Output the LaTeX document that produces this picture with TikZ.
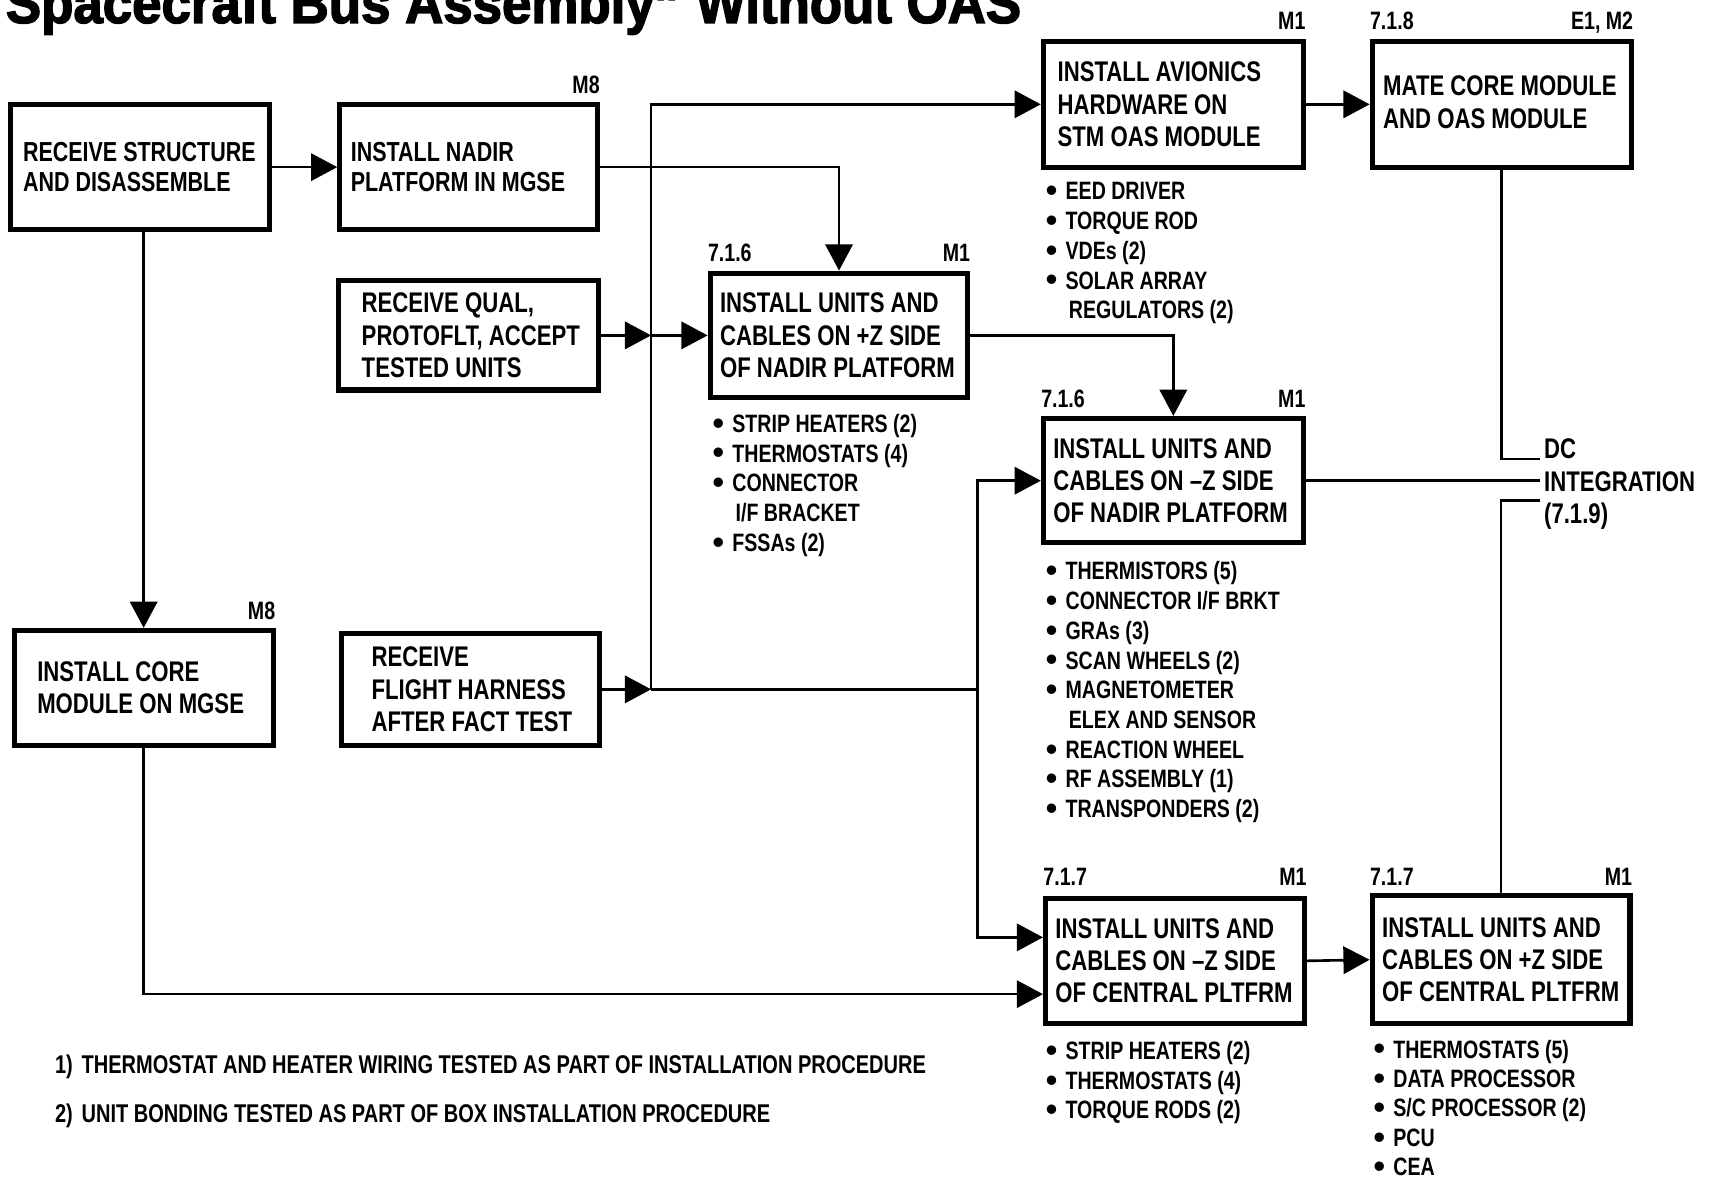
\documentclass[tikz,border=0pt]{standalone}
\usepackage{fontspec}
\newfontfamily\condfont[FakeStretch=0.78]{Liberation Sans}
\newfontfamily\titlefont[FakeStretch=0.93,FakeBold=2.5]{Liberation Sans}
\newfontfamily\plainfont{Liberation Sans}
\usetikzlibrary{arrows.meta,fit,calc}
% bullet for the item lists under the boxes
\newcommand{\bul}{\makebox[9pt][l]{\raisebox{-0.8pt}{\plainfont\fontsize{15}{13}\selectfont •}}}
\newcommand{\cont}{\hspace*{10.5pt}}
\begin{document}
\begin{tikzpicture}[x=0.5pt,y=-0.5pt,
  box/.style={draw, line width=2.3pt, inner sep=0pt},
  btext/.style={anchor=west, inner sep=0pt, align=left,
    font=\condfont\bfseries\fontsize{13}{14.75}\selectfont},
  stext/.style={btext, font=\condfont\bfseries\fontsize{12.6}{13.5}\selectfont},
  tag/.style={inner sep=0pt, font=\condfont\bfseries\fontsize{11.5}{13.6}\selectfont},
  blist/.style={anchor=north west, inner sep=0pt, align=left,
    font=\condfont\bfseries\fontsize{11.5}{13.6}\selectfont},
  note/.style={anchor=west, inner sep=0pt,
    font=\condfont\bfseries\fontsize{11.75}{14}\selectfont},
  link/.style={line width=1.2pt},
  arr/.style={link, -{Triangle[length=12pt,width=12.5pt]}},
]
\useasboundingbox (0,0) rectangle (1568,1080);
\clip (0,0) rectangle (1568,1080);

% heading
\node[anchor=base west, inner sep=0pt,
  font=\titlefont\bfseries\fontsize{26}{28}\selectfont] (title) at (5,21)
  {Spacecraft Bus Assembly” Without OAS};

% process boxes
\node[box, fit={(10,96) (247,210)}] (A) {};
\node[stext] (At) at ($(A.west)+(13,0)$) {RECEIVE STRUCTURE\\AND DISASSEMBLE};

\node[box, fit={(311,96) (547,210)}] (B) {};
\node[stext] (Bt) at ($(B.west)+(12,0)$) {INSTALL NADIR\\PLATFORM IN MGSE};
\node[tag, anchor=base east] (Bm) at ($(B.north east)+(0,-8)$) {M8};

\node[box, fit={(955,38) (1193,153)}] (C) {};
\node[btext] (Ct) at ($(C.west)+(15,0)$) {INSTALL AVIONICS\\HARDWARE ON\\STM OAS MODULE};
\node[tag, anchor=base east] (Cm) at ($(C.north east)+(0,-9)$) {M1};

\node[box, fit={(1256,38) (1493,153)}] (D) {};
\node[btext] (Dt) at ($(D.west)+(12,-2)$) {MATE CORE MODULE\\AND OAS MODULE};
\node[tag, anchor=base west] (Dn) at ($(D.north west)+(0,-9)$) {7.1.8};
\node[tag, anchor=base east] (Dm) at ($(D.north east)+(0,-9)$) {E1, M2};

\node[box, fit={(310,257) (548,357)}] (E) {};
\node[btext] (Et) at ($(E.west)+(23,0)$) {RECEIVE QUAL,\\PROTOFLT, ACCEPT\\TESTED UNITS};

\node[box, fit={(650,250) (886,364)}] (F) {};
\node[btext] (Ft) at ($(F.west)+(11,0)$) {INSTALL UNITS AND\\CABLES ON +Z SIDE\\OF NADIR PLATFORM};
\node[tag, anchor=base west] (Fn) at ($(F.north west)+(0,-8)$) {7.1.6};
\node[tag, anchor=base east] (Fm) at ($(F.north east)+(0,-8)$) {M1};

\node[box, fit={(955,383) (1193,497)}] (H) {};
\node[btext] (Ht) at ($(H.west)+(11,0)$) {INSTALL UNITS AND\\CABLES ON –Z SIDE\\OF NADIR PLATFORM};
\node[tag, anchor=base west] (Hn) at ($(H.north west)+(0,-8)$) {7.1.6};
\node[tag, anchor=base east] (Hm) at ($(H.north east)+(0,-8)$) {M1};

\node[box, fit={(13,577) (250,682)}] (K) {};
\node[btext] (Kt) at ($(K.west)+(23,0)$) {INSTALL CORE\\MODULE ON MGSE};
\node[tag, anchor=base east] (Km) at ($(K.north east)+(0,-8)$) {M8};

\node[box, fit={(313,580) (549,682)}] (G) {};
\node[btext] (Gt) at ($(G.west)+(29,0)$) {RECEIVE\\FLIGHT HARNESS\\AFTER FACT TEST};

\node[box, fit={(957,822) (1194,937)}] (I) {};
\node[btext] (It) at ($(I.west)+(11,0)$) {INSTALL UNITS AND\\CABLES ON –Z SIDE\\OF CENTRAL PLTFRM};
\node[tag, anchor=base west] (In) at ($(I.north west)+(0,-9)$) {7.1.7};
\node[tag, anchor=base east] (Im) at ($(I.north east)+(0,-9)$) {M1};

\node[box, fit={(1256,820) (1492,937)}] (J) {};
\node[btext] (Jt) at ($(J.west)+(11,0)$) {INSTALL UNITS AND\\CABLES ON +Z SIDE\\OF CENTRAL PLTFRM};
\node[tag, anchor=base west] (Jn) at ($(J.north west)+(0,-7)$) {7.1.7};
\node[tag, anchor=base east] (Jm) at ($(J.north east)+(0,-7)$) {M1};

% integration step (text only)
\node[btext, anchor=north west] (DC) at (1413,401.5) {DC\\INTEGRATION\\(7.1.9)};

% item lists
\node[blist] (Cl) at (957,166.8) {\bul EED DRIVER\\\bul TORQUE ROD\\\bul VDEs (2)\\\bul SOLAR ARRAY\\\cont REGULATORS (2)};
\node[blist] (Fl) at (652,378.8) {\bul STRIP HEATERS (2)\\\bul THERMOSTATS (4)\\\bul CONNECTOR\\\cont I/F BRACKET\\\bul FSSAs (2)};
\node[blist] (Hl) at (957,513.8) {\bul THERMISTORS (5)\\\bul CONNECTOR I/F BRKT\\\bul GRAs (3)\\\bul SCAN WHEELS (2)\\\bul MAGNETOMETER\\\cont ELEX AND SENSOR\\\bul REACTION WHEEL\\\bul RF ASSEMBLY (1)\\\bul TRANSPONDERS (2)};
\node[blist] (Il) at (957,952.8) {\bul STRIP HEATERS (2)\\\bul THERMOSTATS (4)\\\bul TORQUE RODS (2)};
\node[blist, font=\condfont\bfseries\fontsize{11.5}{13.45}\selectfont] (Jl) at (1257,951.5) {\bul THERMOSTATS (5)\\\bul DATA PROCESSOR\\\bul S/C PROCESSOR (2)\\\bul PCU\\\bul CEA};

% notes
\node[note] (n1) at (50,977) {1)\hspace{4pt}THERMOSTAT AND HEATER WIRING TESTED AS PART OF INSTALLATION PROCEDURE};
\node[note] (n2) at (50,1021) {2)\hspace{4pt}UNIT BONDING TESTED AS PART OF BOX INSTALLATION PROCEDURE};

% junction points
\coordinate (busB) at (596,631);
\coordinate (rbus) at (895,631);
\coordinate (Iin1) at ($(I.west)+(0,-21.5)$);
\coordinate (Iin2) at ($(I.west)+(0,30.5)$);
\coordinate (dcT) at (1410,420);
\coordinate (dcM) at (1410,440);
\coordinate (dcB) at (1410,458);

% connectors
\draw[arr] (A.east) -- (B.west);
\draw[arr] (K.north |- A.south) -- (K.north);
\draw[arr] (K.south) |- (Iin2);
\draw[arr] (B.east) -| (F.north);
\draw[arr] (busB) |- (C.west);
\draw[arr] (E.east) -- (E.east -| busB);
\draw[arr] (E.east -| busB) -- (F.west);
\draw[arr] (G.east) -- (busB);
\draw[link] (busB) -- (rbus);
\draw[arr] (rbus) |- (H.west);
\draw[arr] (rbus) |- (Iin1);
\draw[arr] (F.east) -| (H.north);
\draw[arr] (C.east) -- (D.west);
\draw[arr] (I.east) -- (J.west);
\draw[link] (H.east) -- (dcM);
\draw[link] (D.south) |- (dcT);
\draw[link] (J.north) |- (dcB);
\end{tikzpicture}
\end{document}
